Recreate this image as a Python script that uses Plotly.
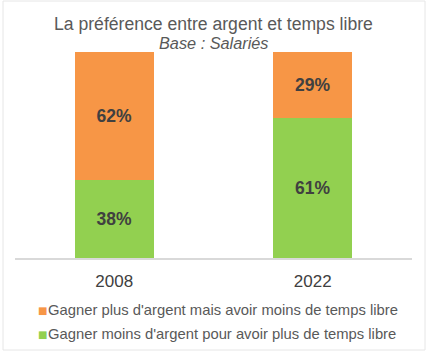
import plotly.graph_objects as go

years = ["2008", "2022"]
less_money_more_time = [38, 61]
more_money_less_time = [62, 29]
series_names = [
    "Gagner moins d'argent pour avoir plus de temps libre",
    "Gagner plus d'argent mais avoir moins de temps libre",
]
series_colors = ["#92D050", "#F79646"]
title = "La préférence entre argent et temps libre"
subtitle = "Base : Salariés"

FONT = "Liberation Sans, Arial, sans-serif"
W, H = 427, 351
L, R, T, B = 15, 15, 52, 93
pw = W - L - R
ph = H - T - B

def px_(pix):
    return (pix - L) / pw

def py(pix):
    return (H - B - pix) / ph

fig = go.Figure()
for vals, name, col in [(less_money_more_time, series_names[0], series_colors[0]),
                        (more_money_less_time, series_names[1], series_colors[1])]:
    fig.add_bar(x=years, y=vals, name=name,
                marker_color=col, marker_line_width=0,
                text=[f"{v}%" for v in vals],
                textposition="inside", insidetextanchor="middle",
                textfont=dict(size=17.5, color="#404040", family=FONT, weight="bold"))

annotations = [
    dict(text=title, x=0.5, xref="paper", y=py(24), yref="paper",
         xanchor="center", yanchor="middle", showarrow=False,
         font=dict(size=17.6, color="#595959", family=FONT)),
    dict(text=f"<i>{subtitle}</i>", x=0.5, xref="paper", y=py(43), yref="paper",
         xanchor="center", yanchor="middle", showarrow=False,
         font=dict(size=16.3, color="#595959", family=FONT)),
]
# legend (orange first, then green)
legend_rows = [(series_names[1], series_colors[1], 310), (series_names[0], series_colors[0], 334)]
for name, col, yc in legend_rows:
    annotations.append(dict(text="■", x=px_(36), xref="paper", y=py(yc), yref="paper",
                            xanchor="left", yanchor="middle", showarrow=False,
                            font=dict(size=10, color=col, family="DejaVu Sans")))
    annotations.append(dict(text=name, x=px_(46), xref="paper", y=py(yc), yref="paper",
                            xanchor="left", yanchor="middle", showarrow=False,
                            font=dict(size=14.8, color="#595959", family=FONT)))

fig.update_layout(
    width=W, height=H,
    barmode="stack", barnorm="percent", bargap=0.6,
    margin=dict(l=L, r=R, t=T, b=B, pad=0, autoexpand=False),
    paper_bgcolor="white", plot_bgcolor="white",
    font=dict(family=FONT, color="#595959"),
    showlegend=False,
    xaxis=dict(showline=True, linecolor="#d9d9d9", linewidth=1.5,
               ticks="outside", ticklen=7, tickcolor="rgba(0,0,0,0)",
               tickfont=dict(size=17, color="#404040", family=FONT),
               showgrid=False, fixedrange=True),
    yaxis=dict(visible=False, range=[0, 100], showgrid=False),
    annotations=annotations,
    shapes=[dict(type="rect", xref="paper", yref="paper",
                 x0=px_(3), x1=px_(425), y0=py(350), y1=py(1),
                 line=dict(color="#e6e6e6", width=1), fillcolor="rgba(0,0,0,0)",
                 layer="below")],
)

fig.write_html("out.html")
